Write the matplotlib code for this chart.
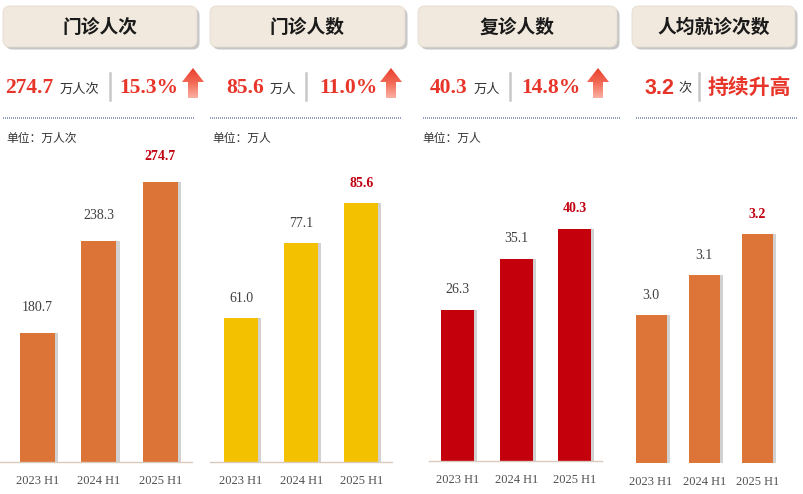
import numpy as np
import matplotlib
matplotlib.use("Agg")
import matplotlib.pyplot as plt
from matplotlib.patches import FancyBboxPatch, Polygon
from matplotlib.colors import LinearSegmentedColormap

plt.rcParams['font.family'] = ['Noto Sans CJK SC', 'DejaVu Sans']

# ---------------- data ----------------
periods = ["2023 H1", "2024 H1", "2025 H1"]
visits = [180.7, 238.3, 274.7]          # 门诊人次 (万人次)
patients = [61.0, 77.1, 85.6]           # 门诊人数 (万人)
revisits = [26.3, 35.1, 40.3]           # 复诊人数 (万人)
per_capita = [3.0, 3.1, 3.2]            # 人均就诊次数 (次)

headers = ["门诊人次", "门诊人数", "复诊人数", "人均就诊次数"]
big_values = ["274.7", "85.6", "40.3", "3.2"]
big_units = ["万人次", "万人", "万人", "次"]
growth = ["15.3%", "11.0%", "14.8%", "持续升高"]
unit_labels = ["单位：万人次", "单位：万人", "单位：万人", ""]

W, H = 804, 494
fig = plt.figure(figsize=(W / 100, H / 100), dpi=100)
fig.patch.set_facecolor("white")

serif = ['Liberation Serif', 'DejaVu Serif']

# overlay axes in pixel coordinates for decorations
ov = fig.add_axes([0, 0, 1, 1], zorder=0)
ov.set_xlim(0, W)
ov.set_ylim(H, 0)
ov.axis("off")

boxes = [(3, 197), (210, 405), (418, 617), (632, 795)]
for (x0, x1), t in zip(boxes, headers):
    sh = FancyBboxPatch((x0 + 2.5, 8.5), x1 - x0, 41, boxstyle="round,pad=0,rounding_size=7",
                        facecolor="#AFAFAF", edgecolor="none", alpha=0.7, zorder=1)
    ov.add_patch(sh)
    bx = FancyBboxPatch((x0, 6), x1 - x0, 41, boxstyle="round,pad=0,rounding_size=7",
                        facecolor="#F1E9DD", edgecolor="#E4DCD0", linewidth=0.6, zorder=2)
    ov.add_patch(bx)
    ov.text((x0 + x1) / 2, 27, t, ha="center", va="center", fontsize=13.5,
            fontweight="bold", color="#1A1A1A", zorder=3)

red = "#E8352A"
# row 2 layout: (value_x, unit_x, sep_x, growth_x, arrow_x)
row = [(5, 60, 110, 119, 182), (226, 270, 306, 319, 380),
       (430, 474, 510, 521, 587), (645, 678, 699, 708, None)]
cmap = LinearSegmentedColormap.from_list("arr", ["#E63B28", "#F26A55", "#FAB0A2"])
for i, (vx, ux, sx, gx, axx) in enumerate(row):
    if i == 3:
        ov.text(vx, 88, big_values[i], ha="left", va="center", fontsize=15.5,
                fontweight="bold", color=red, family=['Liberation Sans', 'DejaVu Sans'])
        ov.text(gx, 87, growth[i], ha="left", va="center", fontsize=15,
                fontweight="bold", color=red)
    else:
        ov.text(vx, 88, big_values[i], ha="left", va="center", fontsize=15.5,
                fontweight="bold", color=red, family=serif)
        ov.text(gx, 88, growth[i], ha="left", va="center", fontsize=15.5,
                fontweight="bold", color=red, family=serif)
    ov.text(ux, 89, big_units[i], ha="left", va="center", fontsize=9.5, color="#333333")
    ov.plot([sx, sx], [73, 100], color="#C8C8C8", linewidth=1.8, zorder=3)
    if axx is not None:
        pts = [(axx + 11, 68), (axx + 22, 82), (axx + 16, 82), (axx + 16, 98),
               (axx + 6, 98), (axx + 6, 82), (axx, 82)]
        poly = Polygon(pts, closed=True, facecolor="none", edgecolor="none")
        ov.add_patch(poly)
        im = ov.imshow(np.linspace(0, 1, 100).reshape(-1, 1), cmap=cmap,
                       extent=(axx, axx + 22, 98, 68), aspect="auto", zorder=3)
        im.set_clip_path(poly)

dots = [(3, 195), (210, 402), (423, 620), (636, 797)]
for x0, x1 in dots:
    ov.plot([x0, x1], [118, 118], color="#7D8FB5", linewidth=1.2, linestyle=(0, (0.6, 0.6)), zorder=3)

unit_x = [6, 212, 422]
for x, t in zip(unit_x, unit_labels):
    ov.text(x, 138, t, ha="left", va="center", fontsize=8.5, color="#333333")

ov.set_xlim(0, W)
ov.set_ylim(H, 0)

# ---------------- bar panels ----------------
panels = [
    dict(vals=visits, color="#DC7437", c0=37.5, c2=160.5, w=35, base=462, ymin=100, scale=1.6,
         L=0, R=192, line=True, gap=18),
    dict(vals=patients, color="#F4C100", c0=241, c2=361.5, w=34, base=462, ymin=30, scale=4.65,
         L=210, R=392, line=True, gap=12),
    dict(vals=revisits, color="#C4000C", c0=457.5, c2=575, w=33, base=461, ymin=0, scale=5.76,
         L=429, R=602, line=True, gap=13),
    dict(vals=per_capita, color="#DE7538", c0=651, c2=757.5, w=31, base=463, ymin=2.635, scale=405,
         L=625, R=800, line=False, gap=12),
]

top_px = 140
for p in panels:
    sp = (p["c2"] - p["c0"]) / 2.0
    ax = fig.add_axes([p["L"] / W, 1 - p["base"] / H, (p["R"] - p["L"]) / W, (p["base"] - top_px) / H],
                      zorder=2)
    ax.patch.set_alpha(0)
    x = np.arange(len(periods))
    bw = p["w"] / sp
    ax.set_xlim((p["L"] - p["c0"]) / sp, (p["R"] - p["c0"]) / sp)
    ax.set_ylim(p["ymin"], p["ymin"] + (p["base"] - top_px) / p["scale"])
    # shadow
    ax.bar(x + 3.0 / sp, np.array(p["vals"]) - p["ymin"], width=bw, bottom=p["ymin"],
           color="#9A9A9A", alpha=0.45, zorder=1)
    ax.bar(x, np.array(p["vals"]) - p["ymin"], width=bw, bottom=p["ymin"],
           color=p["color"], zorder=2)
    for i, v in enumerate(p["vals"]):
        last = i == len(p["vals"]) - 1
        ax.annotate(f"{v:.1f}", (x[i], v), xytext=(0, p["gap"] + 1), textcoords="offset pixels",
                    ha="center", va="bottom", fontsize=10, family=serif,
                    color="#C00010" if last else "#404040",
                    fontweight="bold" if last else "normal", annotation_clip=False)
    ax.set_xticks(x)
    ax.set_xticklabels(periods, family=serif, fontsize=9, color="#505050")
    ax.tick_params(axis="x", length=0, pad=9)
    ax.set_yticks([])
    for s in ["top", "left", "right"]:
        ax.spines[s].set_visible(False)
    if p["line"]:
        ax.spines["bottom"].set_color("#D9CABE")
        ax.spines["bottom"].set_linewidth(1.0)
    else:
        ax.spines["bottom"].set_visible(False)

fig.savefig("out.png", dpi=100, facecolor="white")
